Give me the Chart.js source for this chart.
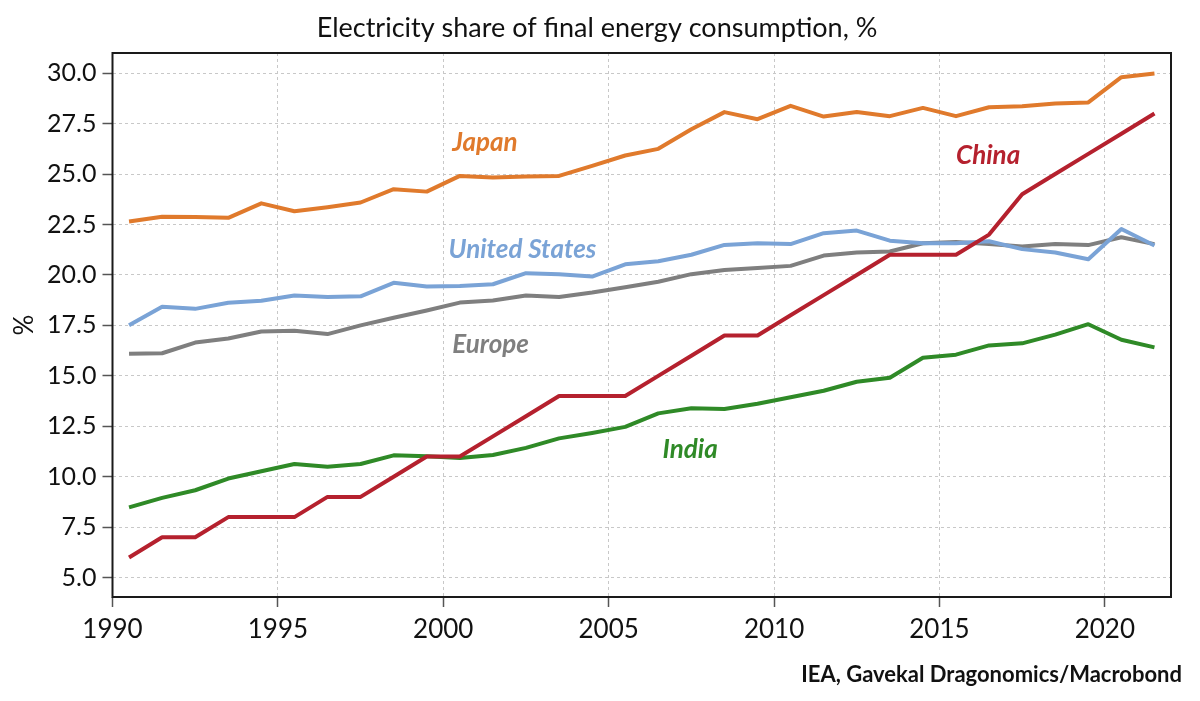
<!DOCTYPE html>
<html>
<head>
<meta charset="utf-8">
<script src="https://cdn.jsdelivr.net/npm/chart.js@4/dist/chart.umd.min.js"></script>
<style>
html,body{margin:0;padding:0;background:#ffffff;}
#wrap{width:1200px;height:701px;position:relative;}
</style>
</head>
<body>
<div id="wrap"><canvas id="c" width="1200" height="701"></canvas></div>
<script>
// ---- data (annual values, plotted at mid-year) ----
const years = [1990,1991,1992,1993,1994,1995,1996,1997,1998,1999,2000,2001,2002,2003,2004,2005,2006,2007,2008,2009,2010,2011,2012,2013,2014,2015,2016,2017,2018,2019,2020,2021];
const japan = [22.65,22.88,22.87,22.83,23.55,23.16,23.36,23.59,24.25,24.13,24.91,24.83,24.88,24.91,25.41,25.92,26.25,27.22,28.07,27.72,28.38,27.85,28.08,27.87,28.28,27.87,28.31,28.36,28.50,28.55,29.80,29.98];
const unitedStates = [17.51,18.42,18.32,18.62,18.72,18.98,18.91,18.94,19.61,19.43,19.45,19.54,20.09,20.04,19.92,20.53,20.68,21.00,21.49,21.57,21.53,22.07,22.20,21.70,21.57,21.57,21.67,21.28,21.11,20.78,22.28,21.46];
const europe = [16.09,16.12,16.65,16.85,17.20,17.23,17.07,17.50,17.88,18.24,18.63,18.73,18.98,18.91,19.13,19.39,19.66,20.04,20.25,20.35,20.45,20.96,21.11,21.16,21.57,21.63,21.53,21.41,21.53,21.48,21.87,21.53];
const india = [8.48,8.95,9.33,9.91,10.27,10.63,10.50,10.63,11.06,11.01,10.93,11.08,11.43,11.90,12.17,12.47,13.14,13.39,13.36,13.62,13.94,14.26,14.71,14.91,15.90,16.05,16.51,16.61,17.04,17.56,16.79,16.41];
const china = [6,7,7,8,8,8,9,9,10,11,11,12,13,14,14,14,15,16,17,17,18,19,20,21,21,21,22,24,25,26,27,28];

const yTicks = [5,7.5,10,12.5,15,17.5,20,22.5,25,27.5,30];
const xTicks = [1990,1995,2000,2005,2010,2015,2020];

const seriesNames = ['Japan','United States','Europe','India','China'];
const seriesColors = ['#e07a2c','#7aa3d6','#7f7f7f','#2f8a27','#b5212e'];
// label anchors (data coordinates: x = year, y = %)
const labelX = [2000.27,2000.16,2000.27,2006.63,2015.5];
const labelY = [26.12,20.85,16.13,10.94,25.5];

const titleText = 'Electricity share of final energy consumption, %';
const sourceText = 'IEA, Gavekal Dragonomics/Macrobond';
const yAxisTitle = '%';

const FONT = 'Lato, "Open Sans", sans-serif';

function pts(vals){ return vals.map((v,i)=>({x: years[i] + 0.5, y: v})); }
const allSeries = [japan, unitedStates, europe, india, china];

const datasets = allSeries.map((vals,i)=>({
  label: seriesNames[i],
  data: pts(vals),
  borderColor: seriesColors[i],
  backgroundColor: seriesColors[i],
  borderWidth: 4,
  pointRadius: 0,
  tension: 0,
  fill: false,
  borderJoinStyle: 'round',
  borderCapStyle: 'butt'
}));
datasets[0].order = 1; datasets[1].order = 2; datasets[2].order = 3; datasets[3].order = 4; datasets[4].order = 0;

const decor = {
  id: 'decor',
  afterDraw(chart){
    const {ctx, chartArea:a, scales} = chart;
    ctx.save();
    // frame
    ctx.strokeStyle = '#1a1a1a';
    ctx.lineWidth = 2;
    ctx.strokeRect(a.left, a.top, a.right - a.left, a.bottom - a.top);
    // title
    ctx.fillStyle = '#111';
    ctx.font = '27px ' + FONT;
    ctx.textAlign = 'center';
    ctx.textBaseline = 'alphabetic';
    ctx.fillText(titleText, 597, 37);
    // source
    ctx.font = 'bold 22px ' + FONT;
    ctx.textAlign = 'right';
    ctx.fillText(sourceText, 1182, 682);
    // y title
    ctx.save();
    ctx.translate(33, 325);
    ctx.rotate(-Math.PI/2);
    ctx.textAlign = 'center';
    ctx.font = '26px ' + FONT;
    ctx.fillText(yAxisTitle, 0, 0);
    ctx.restore();
    // series labels
    ctx.font = 'italic bold 26px ' + FONT;
    ctx.textAlign = 'left';
    for (let i = 0; i < seriesNames.length; i++) {
      ctx.fillStyle = seriesColors[i];
      ctx.fillText(seriesNames[i], scales.x.getPixelForValue(labelX[i]), scales.y.getPixelForValue(labelY[i]));
    }
    ctx.restore();
  }
};

new Chart(document.getElementById('c'), {
  type: 'line',
  data: { datasets },
  options: {
    responsive: false,
    animation: false,
    devicePixelRatio: 1,
    layout: { padding: { left: 0, top: 53, right: 29, bottom: 54 } },
    plugins: { legend: { display: false }, tooltip: { enabled: false }, title: { display: false } },
    scales: {
      x: {
        type: 'linear',
        min: 1990, max: 2022,
        afterBuildTicks: (s) => { s.ticks = xTicks.map(v => ({value: v})); },
        afterFit: (s) => { s.height = 50; },
        grid: { color: '#c8c8c8', lineWidth: 1, tickLength: 10, tickColor: '#555', tickWidth: 1.5, tickBorderDash: [] },
        border: { display: false, dash: [3,3] },
        ticks: { color: '#111', font: { family: FONT, size: 26 }, padding: 7, maxRotation: 0, autoSkip: false, callback: (v) => String(v) }
      },
      y: {
        type: 'linear',
        min: 4.04, max: 31,
        afterBuildTicks: (s) => { s.ticks = yTicks.map(v => ({value: v})); },
        afterFit: (s) => { s.width = 112.5; },
        grid: { color: '#c8c8c8', lineWidth: 1, tickLength: 10, tickColor: '#555', tickWidth: 1.5, tickBorderDash: [] },
        border: { display: false, dash: [3,3] },
        ticks: { color: '#111', font: { family: FONT, size: 25 }, padding: 6, autoSkip: false, callback: (v) => v.toFixed(1) }
      }
    }
  },
  plugins: [decor]
});
</script>
</body>
</html>
